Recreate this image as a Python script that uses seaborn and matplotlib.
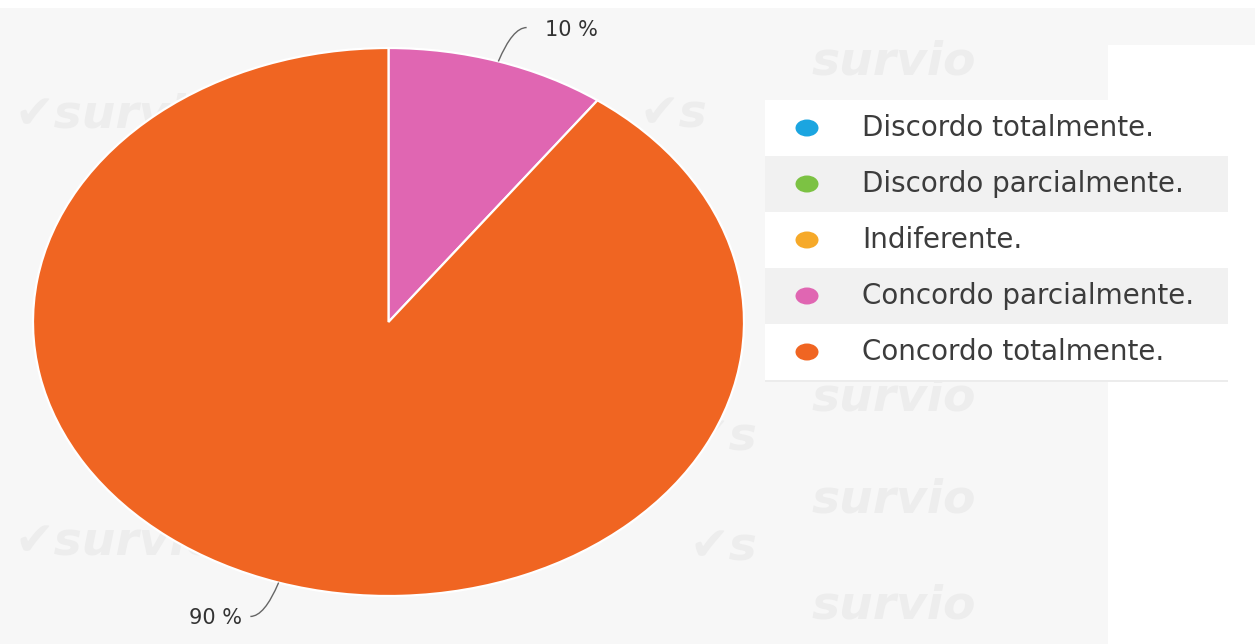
import numpy as np
import matplotlib
matplotlib.use("Agg")
import matplotlib.pyplot as plt
from matplotlib.patches import Rectangle, Ellipse, PathPatch
from matplotlib.path import Path
import seaborn as sns

# Survey answers and their share of responses (%)
categories = [
    "Discordo totalmente.",
    "Discordo parcialmente.",
    "Indiferente.",
    "Concordo parcialmente.",
    "Concordo totalmente.",
]
shares = [0, 0, 0, 10, 90]
colors = ["#1ba5e0", "#7cc243", "#f6a929", "#e066b2", "#f06522"]

sns.set_theme(style="white")
plt.rcParams["font.family"] = ["DejaVu Sans"]
palette = sns.color_palette(colors)

W, H = 1255, 644
fig = plt.figure(figsize=(W / 100, H / 100), dpi=100)
fig.patch.set_facecolor("white")

# Background layer in pixel coordinates
bg = fig.add_axes([0, 0, 1, 1], zorder=0)
bg.set_xlim(0, W)
bg.set_ylim(H, 0)
bg.axis("off")
bg.add_patch(Rectangle((0, 8), 1108, H - 8, color="#f7f7f7", lw=0))
bg.add_patch(Rectangle((1108, 8), W - 1108, 37, color="#f7f7f7", lw=0))

# faint brand watermark
marks = [(15, 115, "\u2714survio"), (15, 542, "\u2714survio"),
         (812, 62, "survio"), (812, 398, "survio"), (812, 500, "survio"),
         (812, 606, "survio"), (690, 438, "\u2714s"), (690, 548, "\u2714s"),
         (640, 115, "\u2714s")]
for x, y, s in marks:
    bg.text(x, y, s, fontsize=34, fontstyle="italic", fontweight="bold",
            color="#ededed", va="center", ha="left", zorder=1)

# Pie (stretched horizontally, as in the exported survey chart)
ax = fig.add_axes([33 / W, (H - 596) / H, 711 / W, 548 / H], zorder=1)
wedges, _ = ax.pie(shares, colors=palette, startangle=90, counterclock=False,
                   radius=1.0,
                   wedgeprops=dict(edgecolor="white", linewidth=1.6))
for w in wedges:
    w.set_clip_on(False)
ax.set_aspect("auto")
ax.set_xlim(-1, 1)
ax.set_ylim(-1, 1)
ax.axis("off")

# Overlay layer for labels and legend
top = fig.add_axes([0, 0, 1, 1], zorder=2)
top.set_xlim(0, W)
top.set_ylim(H, 0)
top.axis("off")
top.patch.set_alpha(0)

to_px = lambda p: top.transData.inverted().transform(ax.transData.transform(p))

total = float(sum(shares))
start = 0.0
for v in shares:
    if v > 0:
        mid = np.deg2rad(360 * (start + v / 2) / total)
        p0 = to_px((np.sin(mid), np.cos(mid)))
        p1 = to_px((1.13 * np.sin(mid), 1.13 * np.cos(mid)))
        side = 1 if np.sin(mid) >= 0 else -1
        p2 = (p1[0] + side * 14, p1[1])
        path = Path([p0, p1, p2], [Path.MOVETO, Path.CURVE3, Path.CURVE3])
        top.add_patch(PathPatch(path, fill=False, edgecolor="#666666", lw=1.0))
        gap = 18 if side > 0 else 8
        top.text(p2[0] + side * gap, p1[1] + 2, f"{v:.0f} %",
                 ha="left" if side > 0 else "right", va="center",
                 fontsize=15, color="#333333")
    start += v

# Legend with alternating row shading
lx0, lx1, ly0, row_h = 765, 1228, 100, 56
top.add_patch(Rectangle((1108, 45), W - 1108, H - 45, color="white", lw=0))
top.add_patch(Rectangle((lx0, ly0), lx1 - lx0, row_h * len(categories),
                        color="white", lw=0))
top.add_patch(Rectangle((lx0, ly0 + row_h * len(categories)), lx1 - lx0, 2,
                        color="#ececec", lw=0))
for i, (name, c) in enumerate(zip(categories, palette)):
    yc = ly0 + row_h * i + row_h / 2
    if i % 2 == 1:
        top.add_patch(Rectangle((lx0, ly0 + row_h * i), lx1 - lx0, row_h,
                                color="#f1f1f1", lw=0))
    top.add_patch(Ellipse((807, yc), 23, 17, color=c, lw=0))
    top.text(862, yc, name, ha="left", va="center", fontsize=20,
             color="#3c3c3c")

fig.savefig("out.png", dpi=100)
